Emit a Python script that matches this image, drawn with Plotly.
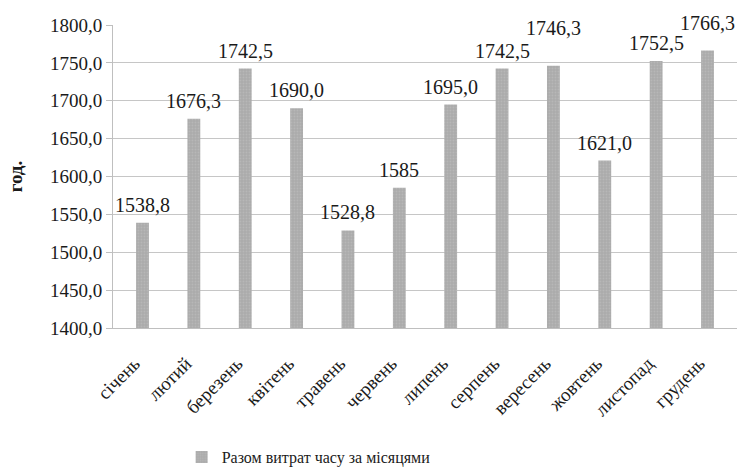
import plotly.graph_objects as go

# Monthly totals of time spent (hours)
months = ["січень", "лютий", "березень", "квітень", "травень", "червень",
          "липень", "серпень", "вересень", "жовтень", "листопад", "грудень"]
hours = [1538.8, 1676.3, 1742.5, 1690.0, 1528.8, 1585.0,
         1695.0, 1742.5, 1746.3, 1621.0, 1752.5, 1766.3]
value_labels = ["1538,8", "1676,3", "1742,5", "1690,0", "1528,8", "1585",
                "1695,0", "1742,5", "1746,3", "1621,0", "1752,5", "1766,3"]
# distance from the bar top to the centre of its value label (pixels)
label_lift = [18, 18, 18, 18, 18, 18, 18, 18, 38, 18, 18, 28]

series_name = "Разом витрат часу за місяцями"
serif = "'Times New Roman', 'Liberation Serif', serif"
ink = "#1a1a1a"

fig = go.Figure()
fig.add_trace(go.Bar(
    x=months, y=hours, name=series_name,
    width=0.25,
    marker=dict(color="#ABABAB", line=dict(width=0),
                pattern=dict(shape=".", fgcolor="#C4C4C4", size=3, solidity=0.3)),
    showlegend=True,
))

for m, v, t, lift in zip(months, hours, value_labels, label_lift):
    fig.add_annotation(x=m, y=v, text=t, showarrow=False, yanchor="middle",
                       yshift=lift, font=dict(family=serif, size=20, color=ink))

fig.update_layout(
    width=741, height=467,
    margin=dict(l=113, r=4, t=25, b=139, autoexpand=False),
    paper_bgcolor="white", plot_bgcolor="white",
    separators=", ",
    font=dict(family=serif, size=19, color=ink),
    bargap=0.75,
    showlegend=True,
    legend=dict(orientation="h", x=0.11, xanchor="left", y=-0.426, yanchor="middle",
                font=dict(family=serif, size=16, color=ink)),
    xaxis=dict(tickangle=-45, tickfont=dict(family=serif, size=19, color=ink),
               showline=True, linecolor="#BFBFBF", linewidth=1, ticks="",
               ticklabelstandoff=16, ticklabelshift=-8,
               showgrid=False),
    yaxis=dict(range=[1400, 1800], dtick=50, tickformat=".1f",
               tickfont=dict(family=serif, size=19, color=ink),
               showgrid=True, gridcolor="#C6C6C6", gridwidth=1,
               showline=True, linecolor="#BFBFBF", linewidth=1,
               ticks="outside", ticklen=6, tickcolor="#BFBFBF",
               zeroline=False,
               title=dict(text="<b>год.</b>", standoff=22,
                          font=dict(family=serif, size=19, color=ink))),
)

fig.write_html("out.html")
